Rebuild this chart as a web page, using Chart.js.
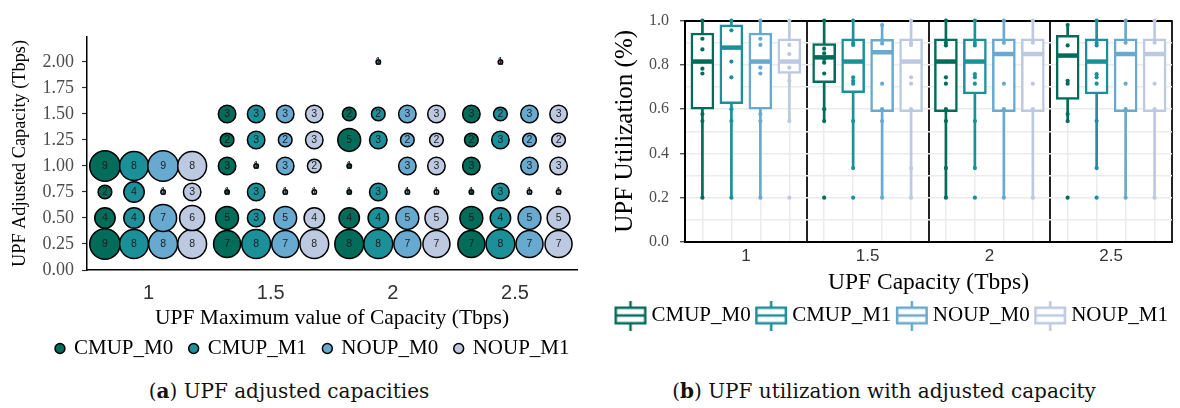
<!DOCTYPE html>
<html>
<head>
<meta charset="utf-8">
<script src="https://cdn.jsdelivr.net/npm/chart.js@4.4.1/dist/chart.umd.min.js"></script>
<style>
  html, body { margin: 0; padding: 0; background: #fff; }
  body { width: 1180px; height: 408px; position: relative; overflow: hidden; }
  #capChart { position: absolute; left: 0; top: 0; }
  #utilChart { position: absolute; left: 608px; top: 0; }
  .cap { position: absolute; top: 379px; font-family: "DejaVu Serif", serif; font-size: 20px;
         color: #111; white-space: nowrap; transform: translateX(-50%); }
</style>
</head>
<body>
<canvas id="capChart" width="626" height="369"></canvas>
<canvas id="utilChart" width="572" height="336"></canvas>
<div class="cap" style="left:289px">(<b>a</b>) UPF adjusted capacities</div>
<div class="cap" style="left:884px">(<b>b</b>) UPF utilization with adjusted capacity</div>
<script>
// ---- shared categories ----
const capacities = [1, 1.5, 2, 2.5];
const seriesNames = ['CMUP_M0', 'CMUP_M1', 'NOUP_M0', 'NOUP_M1'];
const seriesColors = ['#016c59', '#1c9099', '#67a9cf', '#bdc9e1'];

// ---- (a) number of UPFs per adjusted capacity level (Tbps) ----
const capLevels = [0.25, 0.5, 0.75, 1.0, 1.25, 1.5, 1.75, 2.0];
const yTicksLeft = [0, 0.25, 0.5, 0.75, 1.0, 1.25, 1.5, 1.75, 2.0];
const countsCMUP_M0 = [
  [9, 4, 2, 9, 0, 0, 0, 0],
  [7, 5, 1, 3, 2, 3, 0, 0],
  [8, 4, 1, 1, 5, 2, 0, 0],
  [7, 5, 1, 3, 2, 3, 0, 0]
];
const countsCMUP_M1 = [
  [8, 4, 4, 8, 0, 0, 0, 0],
  [8, 3, 3, 1, 3, 3, 0, 0],
  [8, 4, 3, 0, 3, 2, 0, 1],
  [8, 4, 3, 0, 3, 2, 0, 1]
];
const countsNOUP_M0 = [
  [8, 7, 1, 9, 0, 0, 0, 0],
  [7, 5, 1, 3, 2, 3, 0, 0],
  [7, 5, 1, 3, 2, 3, 0, 0],
  [7, 5, 1, 3, 2, 3, 0, 0]
];
const countsNOUP_M1 = [
  [8, 6, 3, 8, 0, 0, 0, 0],
  [8, 4, 1, 2, 3, 3, 0, 0],
  [7, 5, 1, 3, 2, 3, 0, 0],
  [7, 5, 1, 3, 2, 3, 0, 0]
];

// ---- (b) utilization box statistics per capacity: [low whisker, Q1, median, Q3, high whisker] ----
const boxCMUP_M0 = [[0.20, 0.600, 0.815, 0.944, 1.00], [0.546, 0.720, 0.834, 0.896, 1.00], [0.20, 0.589, 0.815, 0.918, 1.00], [0.546, 0.644, 0.842, 0.933, 0.98]];
const boxCMUP_M1 = [[0.20, 0.625, 0.878, 0.981, 1.00], [0.334, 0.674, 0.815, 0.918, 1.00], [0.334, 0.669, 0.815, 0.918, 1.00], [0.334, 0.669, 0.815, 0.918, 1.00]];
const boxNOUP_M0 = [[0.20, 0.600, 0.815, 0.944, 1.00], [0.20, 0.589, 0.857, 0.915, 0.98], [0.20, 0.589, 0.849, 0.918, 1.00], [0.20, 0.589, 0.849, 0.918, 1.00]];
const boxNOUP_M1 = [[0.546, 0.761, 0.815, 0.918, 1.00], [0.20, 0.589, 0.815, 0.918, 1.00], [0.20, 0.589, 0.849, 0.918, 1.00], [0.20, 0.589, 0.849, 0.918, 1.00]];

// individual UPF utilization observations
const ptsCMUP_M0 = [
  [1.0, 0.918, 0.870, 0.783, 0.761, 0.578, 0.546, 0.20],
  [1.0, 0.873, 0.852, 0.827, 0.810, 0.761, 0.600, 0.546, 0.20],
  [1.0, 0.900, 0.888, 0.744, 0.715, 0.600, 0.546, 0.334, 0.20],
  [0.98, 0.888, 0.728, 0.715, 0.578, 0.546, 0.20]
];
const ptsCMUP_M1 = [
  [1.0, 0.956, 0.815, 0.744, 0.600, 0.546, 0.20],
  [1.0, 0.900, 0.890, 0.744, 0.728, 0.715, 0.546, 0.334, 0.20],
  [1.0, 0.900, 0.888, 0.758, 0.744, 0.715, 0.546, 0.334, 0.20],
  [1.0, 0.900, 0.888, 0.758, 0.744, 0.715, 0.546, 0.334, 0.20]
];
const ptsNOUP_M0 = [
  [1.0, 0.918, 0.890, 0.788, 0.761, 0.578, 0.546, 0.20],
  [0.98, 0.912, 0.897, 0.715, 0.600, 0.546, 0.20],
  [1.0, 0.900, 0.715, 0.600, 0.20],
  [1.0, 0.900, 0.715, 0.600, 0.20]
];
const ptsNOUP_M1 = [
  [1.0, 0.890, 0.849, 0.788, 0.728, 0.546, 0.20],
  [1.0, 0.900, 0.890, 0.744, 0.715, 0.600, 0.334, 0.20],
  [1.0, 0.900, 0.715, 0.600, 0.20],
  [1.0, 0.900, 0.715, 0.600, 0.20]
];

// ---- helpers ----
const SERIF = '"Liberation Serif", "Times New Roman", serif';
const SANS = '"Liberation Sans", Arial, sans-serif';
const dodge = 0.119;                      // side-by-side offset of the four series within a capacity
const xpos = (ci, si) => capacities[ci] + (si - 1.5) * dodge;
const bubbleRadius = n => 3 + 13 * Math.sqrt((n - 1) / 8) - 0.75;   // area-style size scale
const facetEdges = capacities.map(c => c - 0.25).concat(capacities[capacities.length - 1] + 0.25);
const boxXs = capacities.flatMap((c, ci) => seriesNames.map((s, si) => xpos(ci, si)));

// ================= (a) bubble chart =================
const countSets = [countsCMUP_M0, countsCMUP_M1, countsNOUP_M0, countsNOUP_M1];
const bubbleSets = countSets.map((set, si) => ({
  label: seriesNames[si],
  data: set.flatMap((row, ci) => row
    .map((n, li) => (n ? { x: xpos(ci, si), y: capLevels[li], r: bubbleRadius(n), n } : null))
    .filter(Boolean)),
  backgroundColor: seriesColors[si],
  borderColor: '#000',
  borderWidth: 1.5,
  order: 3 - si,
  clip: false
}));

const countLabels = {
  id: 'countLabels',
  afterDatasetsDraw(chart) {
    const ctx = chart.ctx;
    ctx.save();
    ctx.font = '10.5px ' + SANS;
    ctx.fillStyle = '#1e1e1e';
    ctx.textAlign = 'center';
    ctx.textBaseline = 'middle';
    chart.data.datasets.forEach((ds, i) => {
      chart.getDatasetMeta(i).data.forEach((el, j) => {
        ctx.fillText(String(ds.data[j].n), el.x, el.y + 0.5);
      });
    });
    ctx.restore();
  }
};

new Chart(document.getElementById('capChart'), {
  type: 'bubble',
  data: { datasets: bubbleSets },
  options: {
    responsive: false,
    animation: false,
    events: [],
    layout: { autoPadding: false, padding: { top: 37, left: 0, right: 0, bottom: 0 } },
    plugins: {
      tooltip: { enabled: false },
      legend: {
        position: 'bottom',
        labels: {
          usePointStyle: true,
          boxWidth: 7,
          boxHeight: 7,
          padding: 17,
          color: '#000',
          font: { family: SERIF, size: 21 },
          sort: (a, b) => a.datasetIndex - b.datasetIndex
        }
      }
    },
    scales: {
      x: {
        type: 'linear',
        min: 0.748,
        max: 2.754,
        afterBuildTicks: s => { s.ticks = capacities.map(v => ({ value: v })); },
        ticks: { callback: v => String(v), autoSkip: false, maxRotation: 0,
                 font: { family: SANS, size: 20 }, color: '#333', padding: 11 },
        grid: { display: false, drawTicks: false },
        border: { display: true, color: '#000', width: 1.5 },
        title: { display: true, text: 'UPF Maximum value of Capacity (Tbps)', color: '#000',
                 font: { family: SERIF, size: 21.5 }, padding: { top: 0, bottom: -9.8 } },
        afterFit: s => { s.height = 51; }
      },
      y: {
        min: 0,
        max: 2.24,
        afterBuildTicks: s => { s.ticks = yTicksLeft.map(v => ({ value: v })); },
        ticks: { callback: v => v.toFixed(2), autoSkip: false,
                 font: { family: SERIF, size: 18 }, color: '#4d4d4d', padding: 8 },
        grid: { drawOnChartArea: false, drawTicks: true, tickLength: 5, tickColor: '#333', tickWidth: 1.2 },
        border: { display: true, color: '#000', width: 1.5 },
        title: { display: true, text: 'UPF Adjusted Capacity (Tbps)', color: '#000',
                 font: { family: SERIF, size: 18.3 }, padding: { top: 9, bottom: 0 } },
        afterFit: s => { s.width = 87; }
      },
      yRight: {
        position: 'right',
        grid: { display: false, drawTicks: false },
        ticks: { display: false },
        border: { display: false },
        afterFit: s => { s.width = 49; }
      }
    }
  },
  plugins: [countLabels]
});

// ================= (b) box plots =================
const boxSets = [boxCMUP_M0, boxCMUP_M1, boxNOUP_M0, boxNOUP_M1];
const ptSets = [ptsCMUP_M0, ptsCMUP_M1, ptsNOUP_M0, ptsNOUP_M1];
const utilDatasets = [];
seriesNames.forEach((name, si) => {
  const stats = boxSets[si];
  const color = seriesColors[si];
  utilDatasets.push({
    type: 'bar', label: name + ' whiskers', xAxisID: 'x', yAxisID: 'y',
    data: stats.map((s, ci) => ({ x: xpos(ci, si), y: [s[0], s[4]] })),
    backgroundColor: color, borderWidth: 0, grouped: false,
    barThickness: 2, maxBarThickness: 2, order: 4
  });
  utilDatasets.push({
    type: 'bar', label: name, xAxisID: 'x', yAxisID: 'y',
    data: stats.map((s, ci) => ({ x: xpos(ci, si), y: [s[1], s[3]] })),
    backgroundColor: '#fff', borderColor: color, borderWidth: 2.5, borderSkipped: false,
    grouped: false, barThickness: 23, maxBarThickness: 23, order: 3
  });
  utilDatasets.push({
    type: 'scatter', label: name + ' median', xAxisID: 'x', yAxisID: 'y',
    data: stats.map((s, ci) => ({ x: xpos(ci, si), y: s[2] })),
    pointStyle: 'line', pointRadius: 10.3, pointBorderWidth: 4.5, pointBorderColor: color,
    order: 2, clip: false
  });
  utilDatasets.push({
    type: 'scatter', label: name + ' points', xAxisID: 'x', yAxisID: 'y',
    data: ptSets[si].flatMap((arr, ci) => arr.map(v => ({ x: xpos(ci, si), y: v }))),
    pointRadius: 2.1, pointBorderWidth: 0, pointBackgroundColor: color,
    order: 1, clip: false
  });
});

function boxIcon(color) {
  const c = document.createElement('canvas');
  c.width = 34; c.height = 30;
  const g = c.getContext('2d');
  g.strokeStyle = color;
  g.lineWidth = 2.5;
  g.beginPath();
  g.moveTo(17, 0); g.lineTo(17, 7);
  g.moveTo(17, 23); g.lineTo(17, 30);
  g.stroke();
  g.strokeRect(2.25, 7.25, 29.5, 15.5);
  g.beginPath();
  g.moveTo(2, 15); g.lineTo(32, 15);
  g.stroke();
  return c;
}
const boxIcons = seriesColors.map(boxIcon);

new Chart(document.getElementById('utilChart'), {
  type: 'bar',
  data: { datasets: utilDatasets },
  options: {
    responsive: false,
    animation: false,
    events: [],
    layout: { autoPadding: false, padding: { top: 14, right: 0, left: 0, bottom: 0 } },
    plugins: {
      tooltip: { enabled: false },
      legend: {
        position: 'bottom',
        labels: {
          usePointStyle: true,
          pointStyleWidth: 21,
          padding: 10,
          color: '#000',
          font: { family: SERIF, size: 21 },
          generateLabels: () => seriesNames.map((n, i) => ({
            text: n, pointStyle: boxIcons[i], fillStyle: 'rgba(0,0,0,0)',
            strokeStyle: 'rgba(0,0,0,0)', lineWidth: 0, hidden: false, datasetIndex: i * 4 + 1
          }))
        }
      }
    },
    scales: {
      x: {
        type: 'linear',
        min: 0.75,
        max: 2.75,
        offset: false,
        z: 0,
        afterBuildTicks: s => {
          s.ticks = facetEdges.concat(capacities).sort((a, b) => a - b).map(v => ({ value: v }));
        },
        ticks: { callback: v => (capacities.includes(v) ? String(v) : ''), autoSkip: false, maxRotation: 0,
                 font: { family: SANS, size: 17 }, color: '#333', padding: 4.5 },
        grid: {
          offset: false,
          drawTicks: false,
          color: c => (c.tick && facetEdges.includes(c.tick.value) ? '#222' : 'rgba(0,0,0,0)'),
          lineWidth: 2
        },
        border: { display: true, color: '#000', width: 2 },
        title: { display: true, text: 'UPF Capacity (Tbps)', color: '#000',
                 font: { family: SERIF, size: 23.5 }, padding: { top: 0, bottom: -2.1 } },
        afterFit: s => { s.height = 53; }
      },
      xGrid: {
        type: 'linear',
        position: 'top',
        min: 0.75,
        max: 2.75,
        offset: false,
        z: -1,
        afterBuildTicks: s => { s.ticks = boxXs.map(v => ({ value: v })); },
        ticks: { display: false },
        grid: { offset: false, drawTicks: false, color: '#ebebeb', lineWidth: 1.5 },
        border: { display: true, color: '#000', width: 2 },
        afterFit: s => { s.height = 0; }
      },
      y: {
        min: 0,
        max: 1,
        z: -2,
        ticks: {
          stepSize: 0.1,
          autoSkip: false,
          callback: v => { const k = Math.round(v * 10); return k % 2 === 0 ? (k / 10).toFixed(1) : ''; },
          font: { family: SERIF, size: 16 }, color: '#4d4d4d', padding: 11
        },
        grid: {
          color: '#ebebeb', lineWidth: 1.5, tickLength: 5, tickWidth: 1.2,
          tickColor: c => (c.tick && Math.round(c.tick.value * 10) % 2 === 0 ? '#333' : 'rgba(0,0,0,0)')
        },
        border: { display: true, color: '#000', width: 2 },
        title: { display: true, text: 'UPF Utilization (%)', color: '#000',
                 font: { family: SERIF, size: 25 }, padding: { top: 2.6, bottom: 0 } },
        afterFit: s => { s.width = 77; }
      },
      yRight: {
        position: 'right',
        grid: { display: false, drawTicks: false },
        ticks: { display: false },
        border: { display: false },
        afterFit: s => { s.width = 8; }
      }
    }
  }
});
</script>
</body>
</html>
